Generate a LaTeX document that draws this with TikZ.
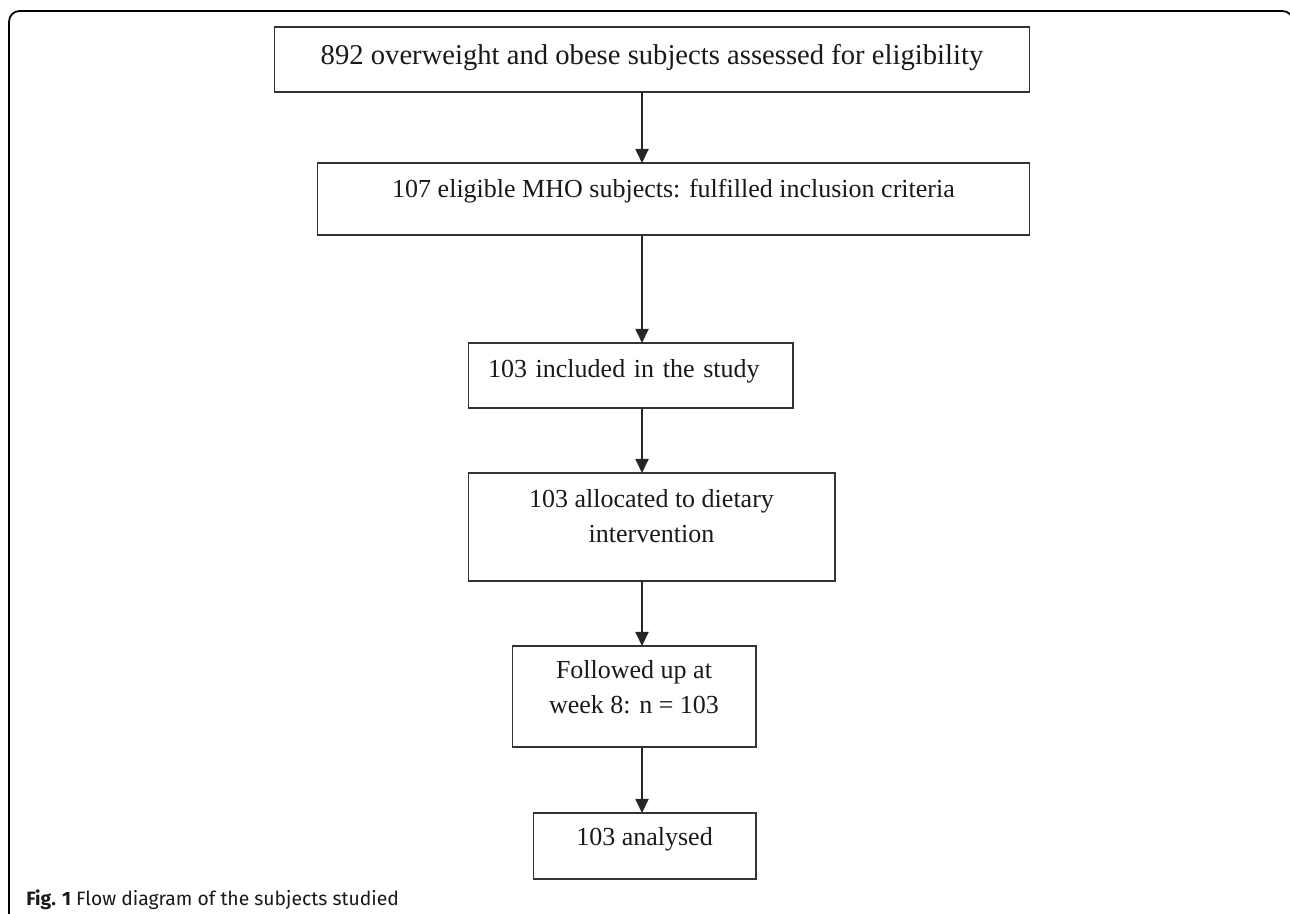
\documentclass[tikz,border=0pt]{standalone}
\usepackage{fontspec}
\setmainfont{Liberation Serif}
\newfontfamily\capfont{Fira Sans}
\usetikzlibrary{arrows.meta}

\tikzset{
  flowbox/.style={draw=black!80, line width=0.6pt, inner sep=0pt, outer sep=0pt, align=center, text=black!90, font=\fontsize{14.8}{19.6}\selectfont},
  flowarrow/.style={line width=1.1pt, black!85, -{Triangle[length=8pt,width=7.4pt]}}
}

\begin{document}
\begin{tikzpicture}[x=0.02cm,y=-0.02cm]
\useasboundingbox (0,0) rectangle (1290,913);
\draw[line width=1pt, rounded corners=6pt] (9,930) -- (9,11) -- (1293,11) -- (1293,930);

\node[flowbox, minimum width=15.12cm, minimum height=1.30cm, font=\fontsize{16.3}{19.6}\selectfont, text depth=6pt] (assessed) at (652,59.5) {892 overweight and obese subjects assessed for eligibility};
\node[flowbox, minimum width=14.26cm, minimum height=1.44cm, text depth=12.4pt] (eligible) at (673.5,199) {107 eligible MHO subjects: fulfilled inclusion criteria};
\node[flowbox, text width=5.7cm, inner xsep=0.4cm, align=left, minimum height=1.30cm, text depth=8.4pt] (included) at (630.5,375.5) {103 included in the study};
\node[flowbox, minimum width=7.34cm, minimum height=2.16cm, text depth=12.6pt] (allocated) at (651.5,527) {103 allocated to dietary\\intervention};
\node[flowbox, minimum width=4.88cm, minimum height=2.02cm, text depth=10.9pt] (followed) at (634,696.5) {Followed up at\\week 8: n = 103};
\node[flowbox, minimum width=4.46cm, minimum height=1.32cm, text depth=11.2pt] (analysed) at (644.5,846) {103 analysed};

\coordinate (axis) at (642,0);
\draw[flowarrow] (axis |- assessed.south) -- (axis |- eligible.north);
\draw[flowarrow] (axis |- eligible.south) -- (axis |- included.north);
\draw[flowarrow] (axis |- included.south) -- (axis |- allocated.north);
\draw[flowarrow] (axis |- allocated.south) -- (axis |- followed.north);
\draw[flowarrow] (axis |- followed.south) -- (axis |- analysed.north);

\node[anchor=base west, inner sep=0pt, text=black!90, font=\capfont\fontsize{11}{13}\selectfont] (caption) at (26,905) {\textbf{Fig. 1} Flow diagram of the subjects studied};
\end{tikzpicture}
\end{document}
